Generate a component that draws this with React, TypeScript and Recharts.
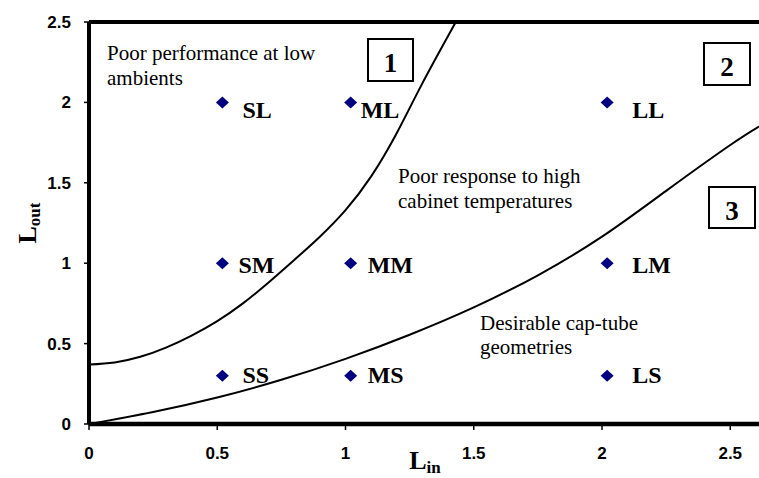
import { ComposedChart, Line, ReferenceLine, Scatter, XAxis, YAxis } from 'recharts'

const INK = '#000000'
const DIAMOND = '#000080'
const SANS = '"Liberation Sans", Arial, sans-serif'
const SERIF = '"Liberation Serif", "Times New Roman", serif'

// cap-tube geometries: inlet / outlet length combinations
const POINT_NAMES = ['SL', 'ML', 'LL', 'SM', 'MM', 'LM', 'SS', 'MS', 'LS']
const POINT_LIN = [0.52, 1.02, 2.02, 0.52, 1.02, 2.02, 0.52, 1.02, 2.02]
const POINT_LOUT = [2, 2, 2, 1, 1, 1, 0.3, 0.3, 0.3]

// boundary between region 1 and region 2
const BOUNDARY_1_LIN = [0, 0.1, 0.2, 0.3, 0.4, 0.5, 0.6, 0.7, 0.8, 0.9, 1.0, 1.1, 1.2, 1.3, 1.43]
const BOUNDARY_1_LOUT = [0.37, 0.383, 0.418, 0.475, 0.55, 0.64, 0.75, 0.88, 1.02, 1.165, 1.33, 1.54, 1.81, 2.12, 2.5]

// boundary between region 2 and region 3
const BOUNDARY_2_LIN = [0, 0.25, 0.5, 0.75, 1, 1.25, 1.5, 1.75, 2, 2.25, 2.5, 2.612]
const BOUNDARY_2_LOUT = [0, 0.075, 0.165, 0.275, 0.405, 0.555, 0.725, 0.925, 1.165, 1.45, 1.735, 1.85]

const X_TICKS = [0, 0.5, 1, 1.5, 2, 2.5]
const Y_TICKS = [0, 0.5, 1, 1.5, 2, 2.5]

// hand-placed label offsets (px) from each diamond
const LABEL_NUDGE: Record<string, [number, number]> = {
  SL: [20, 16],
  ML: [10, 16],
  LL: [25, 15.5],
  SM: [16, 10],
  MM: [17, 10],
  LM: [25, 10],
  SS: [20, 7],
  MS: [17, 7],
  LS: [25, 7],
}

const points = POINT_NAMES.map((name, i) => ({ name, x: POINT_LIN[i], y: POINT_LOUT[i] }))
const boundary1 = BOUNDARY_1_LIN.map((x, i) => ({ x, y: BOUNDARY_1_LOUT[i] }))
const boundary2 = BOUNDARY_2_LIN.map((x, i) => ({ x, y: BOUNDARY_2_LOUT[i] }))

const tickStyle = { fontFamily: SANS, fontSize: 17, fontWeight: 700, fill: INK }

interface DiamondProps {
  cx?: number
  cy?: number
  payload?: { name: string }
}

function Diamond({ cx, cy, payload }: DiamondProps) {
  if (cx == null || cy == null || !payload) return null
  const [dx, dy] = LABEL_NUDGE[payload.name] ?? [18, 8]
  return (
    <g>
      <polygon
        points={`${cx},${cy - 6} ${cx + 6.5},${cy} ${cx},${cy + 6} ${cx - 6.5},${cy}`}
        fill={DIAMOND}
      />
      <text
        x={cx + dx}
        y={cy + dy}
        fontFamily={SERIF}
        fontSize={24}
        fontWeight={700}
        fill={INK}
      >
        {payload.name}
      </text>
    </g>
  )
}

function RegionBox({ x, y, w, h, label }: { x: number; y: number; w: number; h: number; label: string }) {
  return (
    <g>
      <rect x={x} y={y} width={w} height={h} fill="#fff" stroke={INK} strokeWidth={2} />
      <text
        x={x + w / 2}
        y={y + h / 2 + 12}
        textAnchor="middle"
        fontFamily={SERIF}
        fontSize={27}
        fontWeight={700}
        fill={INK}
      >
        {label}
      </text>
    </g>
  )
}

function Annotations() {
  const note = { fontFamily: SERIF, fontSize: 21, fill: INK }
  return (
    <svg
      width={759}
      height={478}
      style={{ position: 'absolute', left: 0, top: 0, pointerEvents: 'none' }}
    >
      <text {...note} x={107} y={60}>Poor performance at low</text>
      <text {...note} x={107} y={84.5}>ambients</text>
      <text {...note} x={398} y={183}>Poor response to high</text>
      <text {...note} x={398} y={207.5}>cabinet temperatures</text>
      <text {...note} x={480} y={329.5}>Desirable cap-tube</text>
      <text {...note} x={480} y={354}>geometries</text>

      <RegionBox x={368} y={39} w={45} h={42} label="1" />
      <RegionBox x={704} y={43} w={46} h={42} label="2" />
      <RegionBox x={709} y={187} w={46} h={41} label="3" />

      <text x={425} y={469} textAnchor="middle" fontFamily={SERIF} fontWeight={700} fill={INK}>
        <tspan fontSize={26}>L</tspan>
        <tspan fontSize={17} dy={4}>in</tspan>
      </text>
      <text
        transform="translate(36,223) rotate(-90)"
        textAnchor="middle"
        fontFamily={SERIF}
        fontWeight={700}
        fill={INK}
      >
        <tspan fontSize={26}>L</tspan>
        <tspan fontSize={17} dy={4}>out</tspan>
      </text>
    </svg>
  )
}

export default function App() {
  return (
    <div
      style={{
        position: 'absolute',
        left: 0,
        top: 0,
        width: 759,
        height: 478,
        background: '#fff',
        overflow: 'hidden',
      }}
    >
      <ComposedChart width={759} height={478} margin={{ top: 22, right: 0, bottom: 0, left: 0 }}>
        <XAxis
          dataKey="x"
          type="number"
          domain={[0, 2.612]}
          allowDataOverflow
          ticks={X_TICKS}
          tickFormatter={(v: number) => String(v)}
          height={54}
          tick={tickStyle}
          tickSize={6}
          tickMargin={17}
          axisLine={{ stroke: INK, strokeWidth: 4.5 }}
          tickLine={{ stroke: INK, strokeWidth: 1.5 }}
        />
        <YAxis
          type="number"
          domain={[0, 2.5]}
          allowDataOverflow
          ticks={Y_TICKS}
          tickFormatter={(v: number) => String(v)}
          width={89}
          tick={tickStyle}
          tickSize={5}
          tickMargin={13}
          axisLine={{ stroke: INK, strokeWidth: 4 }}
          tickLine={{ stroke: INK, strokeWidth: 1.5 }}
        />
        <ReferenceLine y={2.5} stroke={INK} strokeWidth={4} />
        <Line
          data={boundary1}
          dataKey="y"
          type="natural"
          stroke={INK}
          strokeWidth={2}
          dot={false}
          activeDot={false}
          isAnimationActive={false}
        />
        <Line
          data={boundary2}
          dataKey="y"
          type="natural"
          stroke={INK}
          strokeWidth={2}
          dot={false}
          activeDot={false}
          isAnimationActive={false}
        />
        <Scatter data={points} dataKey="y" shape={(p: DiamondProps) => <Diamond {...p} />} isAnimationActive={false} />
      </ComposedChart>
      <Annotations />
    </div>
  )
}
